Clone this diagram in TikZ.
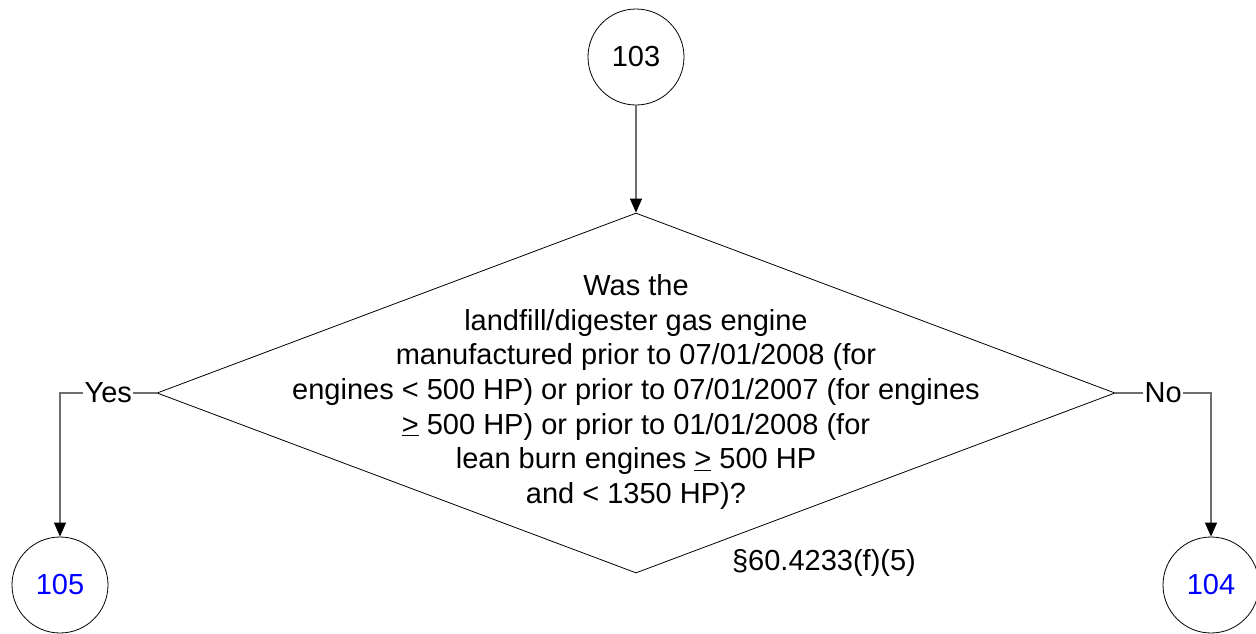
\documentclass[tikz,border=0pt]{standalone}
\usepackage{fontspec}
\setmainfont{Liberation Sans}
\usetikzlibrary{shapes.geometric,arrows.meta}
\definecolor{connc}{RGB}{110,110,110}
\definecolor{linkblue}{RGB}{0,0,255}
\tikzset{
  conn/.style={draw=connc, line width=1.3pt, -{Triangle[width=12pt,length=14pt,color=black,fill=black]}},
  refcircle/.style={circle, draw=black, line width=0.8pt, minimum size=96pt, inner sep=0pt, font=\fontsize{29}{34.7}\selectfont},
  decision/.style={diamond, draw=black, line width=0.8pt, minimum width=958pt, minimum height=360pt, inner sep=0pt},
  maintext/.style={font=\fontsize{29}{34.7}\selectfont, align=center, inner sep=0pt},
  lbl/.style={font=\fontsize{29}{34.7}\selectfont, fill=white, inner sep=1.5pt}
}
\begin{document}
\begin{tikzpicture}[x=1pt,y=-1pt]
\useasboundingbox (0,0) rectangle (1256,633);
\node[refcircle] (c103) at (636,57) {103};
\node[decision] (dia) at (636,393) {};
\node[maintext] (q) at (636,392) {Was the\\landfill/digester gas engine\\manufactured prior to 07/01/2008 (for\\engines < 500 HP) or prior to 07/01/2007 (for engines\\\underline{>} 500 HP) or prior to 01/01/2008 (for\\lean burn engines \underline{>} 500 HP\\and < 1350 HP)?};
\node[maintext] (ref) at (824,563) {§60.4233(f)(5)};
\node[refcircle, text=linkblue] (c105) at (60,585) {105};
\node[refcircle, text=linkblue] (c104) at (1211,585) {104};
\draw[conn] (c103) -- (dia.north);
\draw[conn] (dia.west) -| node[lbl, pos=0.25] {Yes} (c105.north);
\draw[conn] (dia.east) -| node[lbl, pos=0.25] {No} (c104.north);
\end{tikzpicture}
\end{document}
